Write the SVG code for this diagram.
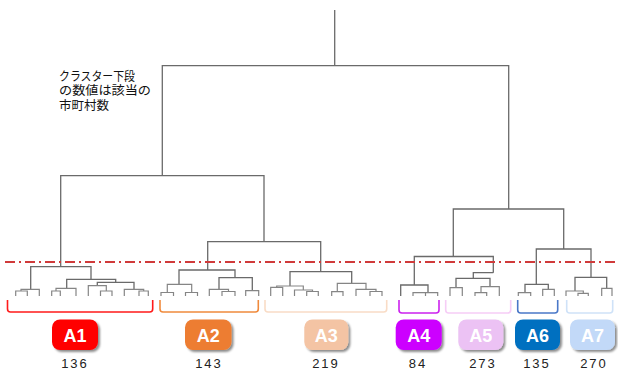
<svg xmlns="http://www.w3.org/2000/svg" width="618" height="369" viewBox="0 0 618 369">
<style>
.ln{fill:none;stroke:#6a6a6a;stroke-width:1.3}
.lf{fill:none;stroke:#858585;stroke-width:1.2}
.cut{fill:none;stroke:#d03a3a;stroke-width:2;stroke-dasharray:10 4 2 4}
.br{fill:none;stroke-width:1.6}
.lbl{font-family:"Liberation Sans",Arial,sans-serif;font-weight:bold;font-size:18px;fill:#fff;text-anchor:middle}
.num{font-family:"Liberation Sans",Arial,sans-serif;font-size:13px;fill:#222;text-anchor:middle;letter-spacing:2px}
.note{font-family:"Noto Sans CJK JP","Noto Sans",sans-serif;font-size:12.5px;fill:#111}
</style>
<defs>
<filter id="sh" x="-20%" y="-20%" width="150%" height="150%">
<feDropShadow dx="2" dy="2" stdDeviation="1.2" flood-color="#000" flood-opacity="0.45"/>
</filter>
</defs>
<rect width="618" height="369" fill="#fff"/>

<g id="note">
<text class="note" x="59" y="80.5" textLength="76" lengthAdjust="spacingAndGlyphs">クラスター下段</text>
<text class="note" x="59" y="95" textLength="92" lengthAdjust="spacingAndGlyphs">の数値は該当の</text>
<text class="note" x="59" y="109.5">市町村数</text>
</g>

<g id="connectors">
<path class="ln" d="M334.7 10 V65.7"/>
<path class="ln" d="M162.3 175.7 V65.7 H508.7 V209"/>
<path class="ln" d="M60.7 266.7 V175.7 H264 V241.7"/>
<path class="ln" d="M207.7 270 V241.7 H320.7 V271.7"/>
<path class="ln" d="M453.3 256.5 V209 H563.7 V249"/>
<path class="ln" d="M414.3 285 V256.5 H493.3 V272.7"/>
<path class="ln" d="M536.3 284.3 V249 H591 V277.3"/>
<path class="ln" d="M30.7 289.3 V266.7 H91 V279.3"/>
<path class="lf" d="M21 291 V289.3 H39.3 V296"/>
<path class="lf" d="M15.7 296 V291 H27.3 V296"/>
<path class="ln" d="M66.7 288.3 V279.3 H115.7 V282.3"/>
<path class="lf" d="M56 291 V288.3 H76 V296"/>
<path class="lf" d="M51.7 296 V291 H60.3 V296"/>
<path class="ln" d="M97.3 285.7 V282.3 H134 V289.3"/>
<path class="lf" d="M88.3 296 V285.7 H106.3 V291"/>
<path class="lf" d="M100.5 296 V291 H112 V296"/>
<path class="lf" d="M124.3 296 V289.3 H143.7 V291"/>
<path class="lf" d="M139 296 V291 H148.3 V296"/>
<path class="ln" d="M179 284.3 V270 H235 V277.7"/>
<path class="lf" d="M167.3 292.5 V284.3 H191.7 V292.5"/>
<path class="lf" d="M161 296 V292.5 H173.5 V296"/>
<path class="lf" d="M185.5 296 V292.5 H197.5 V296"/>
<path class="ln" d="M219 289.3 V277.7 H252.3 V290.7"/>
<path class="lf" d="M209.3 296 V289.3 H228.5 V291.5"/>
<path class="lf" d="M222 296 V291.5 H235 V296"/>
<path class="lf" d="M245.7 296 V290.7 H258.7 V296"/>
<path class="ln" d="M290 286 V271.7 H351.7 V283.3"/>
<path class="lf" d="M276.7 287.3 V286 H303.3 V290"/>
<path class="lf" d="M270.7 296 V287.3 H282.7 V296"/>
<path class="lf" d="M294.5 296 V290 H312.5 V291.5"/>
<path class="lf" d="M306.7 296 V291.5 H318.3 V296"/>
<path class="lf" d="M337.3 291.7 V283.3 H366 V289.3"/>
<path class="lf" d="M331.7 296 V291.7 H343 V296"/>
<path class="lf" d="M356 296 V289.3 H376 V291.5"/>
<path class="lf" d="M370 296 V291.5 H382 V296"/>
<path class="ln" d="M400.7 296 V285 H428 V292.7"/>
<path class="lf" d="M413 296 V292.7 H437.7 V296 M425.5 292.7 V296"/>
<path class="ln" d="M473.3 278.3 V272.7 H493.3"/>
<path class="ln" d="M456 287.7 V278.3 H490 V286.7"/>
<path class="lf" d="M450 296 V287.7 H462.3 V296"/>
<path class="lf" d="M481 292.7 V286.7 H499.3 V296"/>
<path class="lf" d="M475 296 V292.7 H486.7 V296"/>
<path class="ln" d="M525 292.7 V284.3 H548.3 V289.3"/>
<path class="lf" d="M518.3 296 V292.7 H530.7 V296"/>
<path class="lf" d="M542.7 296 V289.3 H554.3 V296"/>
<path class="ln" d="M575 291 V277.3 H606.7 V288.3"/>
<path class="lf" d="M566 296 V291 H583.3 V293.3"/>
<path class="lf" d="M578 296 V293.3 H588.3 V296"/>
<path class="lf" d="M601.7 296 V288.3 H612 V296"/>
<path class="cut" d="M5 262 H616"/>
</g>

<g id="A1">
<path class="br" stroke="#ff1a1a" d="M7.5 300 V309 Q7.5 312 10.5 312 H149.7 Q152.7 312 152.7 309 V300"/>
<rect x="52" y="319.5" width="46" height="30.5" rx="8" fill="#ff0000" filter="url(#sh)"/>
<text class="lbl" x="75" y="341.5">A1</text>
<text class="num" x="75" y="367.5">136</text>
</g>
<g id="A2">
<path class="br" stroke="#f08a3c" d="M160 300 V309 Q160 312 163 312 H255.3 Q258.3 312 258.3 309 V300"/>
<rect x="185" y="319.5" width="46.5" height="30.5" rx="8" fill="#ed7d31" filter="url(#sh)"/>
<text class="lbl" x="208.2" y="341.5">A2</text>
<text class="num" x="209" y="367.5">143</text>
</g>
<g id="A3">
<path class="br" stroke="#f9dcc6" d="M265 300 V309 Q265 312 268 312 H383.7 Q386.7 312 386.7 309 V300"/>
<rect x="304.3" y="319.5" width="44" height="30.5" rx="8" fill="#f4c4a4" filter="url(#sh)"/>
<text class="lbl" x="326.3" y="341.5">A3</text>
<text class="num" x="326" y="367.5">219</text>
</g>
<g id="A4">
<path class="br" stroke="#cc22ee" d="M399 300 V310 Q399 313 402 313 H436 Q439 313 439 310 V300"/>
<rect x="395.7" y="319.5" width="46" height="30.5" rx="8" fill="#cc00ff" filter="url(#sh)"/>
<text class="lbl" x="418.7" y="341.5">A4</text>
<text class="num" x="418" y="367.5">84</text>
</g>
<g id="A5">
<path class="br" stroke="#f6cdf6" d="M445.7 300 V310 Q445.7 313 448.7 313 H507.7 Q510.7 313 510.7 310 V300"/>
<rect x="458.3" y="319.5" width="45" height="30.5" rx="8" fill="#ecc2f4" filter="url(#sh)"/>
<text class="lbl" x="480.8" y="341.5">A5</text>
<text class="num" x="483" y="367.5">273</text>
</g>
<g id="A6">
<path class="br" stroke="#4a78c8" d="M517.7 300 V310 Q517.7 313 520.7 313 H554.7 Q557.7 313 557.7 310 V300"/>
<rect x="515" y="319.5" width="45" height="30.5" rx="8" fill="#0070c0" filter="url(#sh)"/>
<text class="lbl" x="537.5" y="341.5">A6</text>
<text class="num" x="537" y="367.5">135</text>
</g>
<g id="A7">
<path class="br" stroke="#cfe2f8" d="M566.7 300 V310 Q566.7 313 569.7 313 H609.7 Q612.7 313 612.7 310 V300"/>
<rect x="570" y="319.5" width="45" height="30.5" rx="8" fill="#c2d9f8" filter="url(#sh)"/>
<text class="lbl" x="592.5" y="341.5">A7</text>
<text class="num" x="594" y="367.5">270</text>
</g>
</svg>
